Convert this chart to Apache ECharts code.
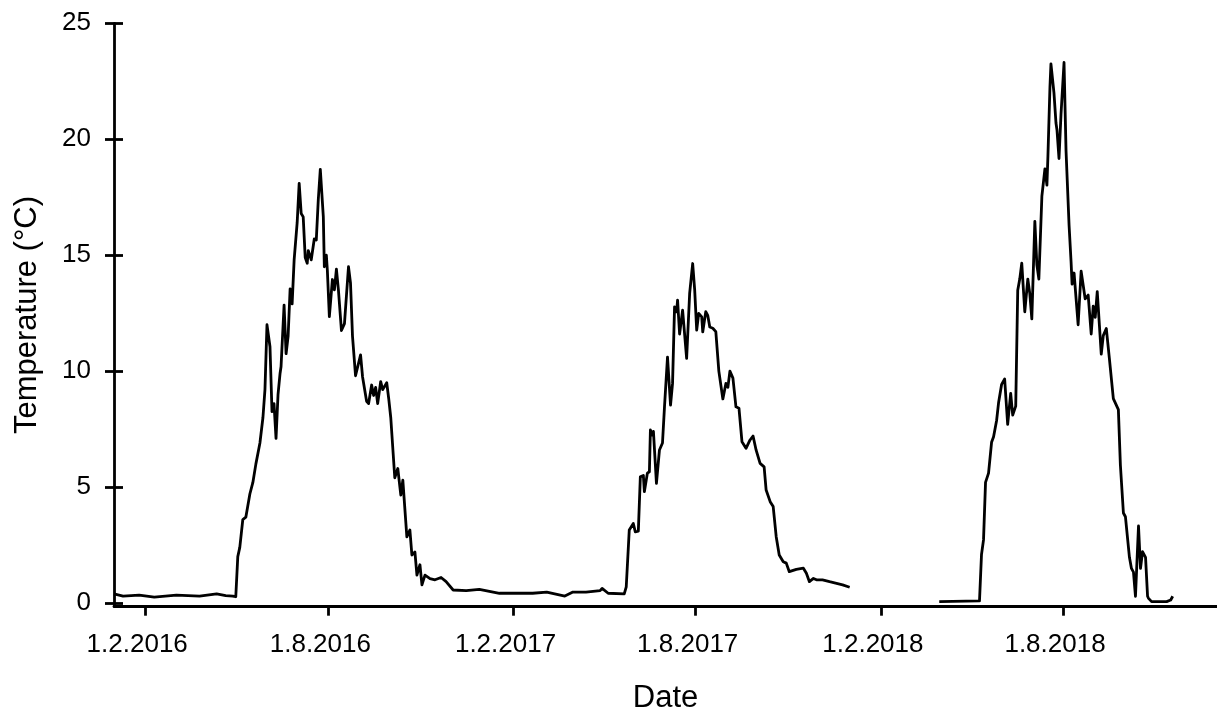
<!DOCTYPE html>
<html>
<head>
<meta charset="utf-8">
<title>Temperature</title>
<script src="https://cdn.jsdelivr.net/npm/echarts@6/dist/echarts.min.js"></script>
<style>
  html, body { margin: 0; padding: 0; background: #fff; }
  #chart { width: 1217px; height: 715px; }
</style>
</head>
<body>
<div id="chart"></div>
<script>
// logger record 2016 - end of 2017 (continuous)
const datesA = [
  '2016-01-01','2016-01-10','2016-01-26','2016-02-10','2016-03-03','2016-03-26','2016-04-12','2016-04-21','2016-04-28','2016-05-01',
  '2016-05-03','2016-05-05','2016-05-08','2016-05-11','2016-05-15','2016-05-18','2016-05-21','2016-05-25','2016-05-28','2016-05-30',
  '2016-06-01','2016-06-04','2016-06-06','2016-06-08','2016-06-10','2016-06-12','2016-06-14','2016-06-15','2016-06-18','2016-06-20',
  '2016-06-22','2016-06-24','2016-06-26','2016-06-28','2016-07-01','2016-07-03','2016-07-05','2016-07-07','2016-07-09','2016-07-11',
  '2016-07-12','2016-07-15','2016-07-18','2016-07-20','2016-07-22','2016-07-24','2016-07-27','2016-07-28','2016-07-30','2016-07-31',
  '2016-08-02','2016-08-05','2016-08-07','2016-08-09','2016-08-11','2016-08-14','2016-08-17','2016-08-21','2016-08-23','2016-08-25',
  '2016-08-28','2016-09-02','2016-09-04','2016-09-08','2016-09-10','2016-09-13','2016-09-15','2016-09-17','2016-09-19','2016-09-22',
  '2016-09-24','2016-09-28','2016-09-30','2016-10-02','2016-10-06','2016-10-09','2016-10-12','2016-10-14','2016-10-18','2016-10-21',
  '2016-10-23','2016-10-26','2016-10-28','2016-10-31','2016-11-02','2016-11-05','2016-11-10','2016-11-15','2016-11-21','2016-11-26',
  '2016-12-03','2016-12-16','2016-12-29','2017-01-18','2017-02-03','2017-02-20','2017-03-06','2017-03-24','2017-04-01','2017-04-14',
  '2017-04-28','2017-04-30','2017-05-06','2017-05-22','2017-05-24','2017-05-27','2017-05-31','2017-06-02','2017-06-05','2017-06-07',
  '2017-06-10','2017-06-11','2017-06-14','2017-06-16','2017-06-17','2017-06-19','2017-06-20','2017-06-23','2017-06-26','2017-06-29',
  '2017-07-01','2017-07-04','2017-07-07','2017-07-09','2017-07-11','2017-07-13','2017-07-14','2017-07-16','2017-07-19','2017-07-23',
  '2017-07-26','2017-07-29','2017-07-31','2017-08-02','2017-08-04','2017-08-07','2017-08-08','2017-08-11','2017-08-13','2017-08-15',
  '2017-08-18','2017-08-21','2017-08-24','2017-08-28','2017-08-31','2017-09-02','2017-09-04','2017-09-07','2017-09-10','2017-09-13',
  '2017-09-16','2017-09-20','2017-09-24','2017-09-27','2017-09-30','2017-10-04','2017-10-08','2017-10-10','2017-10-14','2017-10-17',
  '2017-10-20','2017-10-23','2017-10-27','2017-10-30','2017-11-02','2017-11-09','2017-11-16','2017-11-19','2017-11-22','2017-11-26',
  '2017-11-29','2017-12-05','2017-12-12','2017-12-19','2017-12-25','2018-01-01'
];
const tempsA = [
  0.39, 0.30, 0.34, 0.25, 0.34, 0.30, 0.39, 0.32, 0.30, 0.27,
  2.0, 2.4, 3.6, 3.7, 4.7, 5.2, 6.0, 6.9, 8.0, 9.2,
  12.0, 11.05, 8.25, 8.6, 7.1, 9.0, 9.9, 10.2, 12.85, 10.75,
  11.5, 13.55, 12.9, 14.8, 16.4, 18.1, 16.8, 16.65, 14.9, 14.65,
  15.2, 14.8, 15.7, 15.65, 17.4, 18.7, 16.65, 14.5, 15.0, 14.35,
  12.35, 13.95, 13.5, 14.4, 13.5, 11.75, 12.05, 14.5, 13.8, 11.5,
  9.8, 10.7, 9.75, 8.7, 8.6, 9.4, 8.95, 9.3, 8.6, 9.55,
  9.2, 9.5, 8.8, 8.0, 5.4, 5.8, 4.65, 5.3, 2.85, 3.15,
  2.07, 2.2, 1.2, 1.65, 0.78, 1.2, 1.05, 1.0, 1.1, 0.92,
  0.56, 0.53, 0.59, 0.42, 0.42, 0.42, 0.47, 0.30, 0.47, 0.47,
  0.53, 0.63, 0.42, 0.39, 0.7, 3.15, 3.43, 3.07, 3.1, 5.44,
  5.5, 4.8, 5.6, 5.66, 7.46, 7.24, 7.4, 5.16, 6.6, 6.9,
  8.46, 10.6, 8.53, 9.47, 12.77, 12.56, 13.06, 11.6, 12.63, 10.55,
  13.35, 14.64, 13.5, 11.77, 12.49, 12.34, 11.69, 12.56, 12.4, 11.9,
  11.85, 11.7, 10.0, 8.8, 9.47, 9.3, 10.0, 9.7, 8.46, 8.4,
  6.95, 6.67, 7.03, 7.2, 6.6, 6.02, 5.87, 4.87, 4.37, 4.16,
  2.86, 2.07, 1.78, 1.72, 1.35, 1.45, 1.5, 1.28, 0.92, 1.06,
  1.0, 1.0, 0.92, 0.85, 0.78, 0.68
];

// logger record 2018
const datesB = [
  '2018-03-31','2018-05-10','2018-05-12','2018-05-14','2018-05-16','2018-05-19','2018-05-20','2018-05-22','2018-05-24','2018-05-27',
  '2018-05-29','2018-06-01','2018-06-04','2018-06-07','2018-06-10','2018-06-12','2018-06-15','2018-06-17','2018-06-19','2018-06-21',
  '2018-06-24','2018-06-27','2018-06-29','2018-07-01','2018-07-04','2018-07-06','2018-07-08','2018-07-11','2018-07-14','2018-07-16',
  '2018-07-17','2018-07-19','2018-07-20','2018-07-23','2018-07-25','2018-07-26','2018-07-28','2018-07-30','2018-08-02','2018-08-04',
  '2018-08-07','2018-08-09','2018-08-10','2018-08-12','2018-08-14','2018-08-16','2018-08-19','2018-08-23','2018-08-26','2018-08-29',
  '2018-08-31','2018-09-02','2018-09-04','2018-09-08','2018-09-10','2018-09-13','2018-09-16','2018-09-20','2018-09-25','2018-09-27',
  '2018-09-30','2018-10-02','2018-10-06','2018-10-08','2018-10-10','2018-10-12','2018-10-15','2018-10-17','2018-10-19','2018-10-22',
  '2018-10-24','2018-10-25','2018-10-28','2018-11-12','2018-11-16','2018-11-18'
];
const tempsB = [
  0.06, 0.09, 2.09, 2.72, 5.2, 5.6, 5.53, 6.93, 7.17, 7.87,
  8.65, 9.43, 9.66, 7.7, 9.04, 8.1, 8.49, 13.49, 13.97, 14.66,
  12.56, 13.97, 13.34, 12.25, 16.46, 14.59, 13.97, 17.55, 18.72, 18.02,
  19.27, 22.24, 23.25, 22.0, 20.7, 20.4, 19.17, 21.08, 23.31, 19.49,
  16.3, 14.71, 13.75, 14.23, 13.12, 12.0, 14.31, 13.12, 13.28, 11.6,
  12.8, 12.32, 13.43, 10.73, 11.53, 11.84, 10.57, 8.81, 8.34, 5.95,
  3.88, 3.72, 1.97, 1.49, 1.33, 0.29, 3.32, 1.49, 2.21, 1.97,
  0.29, 0.2, 0.06, 0.06, 0.13, 0.29
];

const xTicks = ['2016-02-01', '2016-08-01', '2017-02-01', '2017-08-01', '2018-02-01', '2018-08-01'];
const yTicks = [0, 5, 10, 15, 20, 25];

const FONT = "'Liberation Sans', Arial, sans-serif";

function ts(s) {
  const p = s.split('-');
  return Date.UTC(+p[0], +p[1] - 1, +p[2]);
}

function pairs(dates, temps) {
  return dates.map((d, i) => [ts(d), temps[i]]);
}

function fmtDate(v) {
  const d = new Date(v);
  return d.getUTCDate() + '.' + (d.getUTCMonth() + 1) + '.' + d.getUTCFullYear();
}

const xTickValues = xTicks.map(ts);

const chart = echarts.init(document.getElementById('chart'));

const lineStyle = { color: '#000', width: 2.8, join: 'round' };
const axisStroke = { color: '#000', width: 2.8 };

chart.setOption({
  animation: false,
  backgroundColor: '#fff',
  grid: {
    left: 114, right: 0, top: 23.3, bottom: 108.3,
    containLabel: false,
    outerBoundsMode: 'none'
  },
  xAxis: {
    type: 'value',
    min: ts('2016-01-01'),
    max: ts('2019-01-01'),
    name: 'Date',
    nameLocation: 'middle',
    nameGap: 76,
    nameTextStyle: { fontFamily: FONT, fontSize: 31, color: '#000' },
    axisLine: { onZero: false, lineStyle: axisStroke },
    axisTick: { show: true, length: 9, customValues: xTickValues, lineStyle: axisStroke },
    axisLabel: {
      customValues: xTickValues,
      formatter: fmtDate,
      margin: 25,
      padding: [0, 16, 0, 0],
      fontFamily: FONT,
      fontSize: 26,
      color: '#000'
    },
    splitLine: { show: false }
  },
  yAxis: [
    {
      type: 'value',
      position: 'left',
      min: -0.16,
      max: 25,
      name: 'Temperature (°C)',
      nameLocation: 'middle',
      nameGap: 71,
      nameTextStyle: { fontFamily: FONT, fontSize: 31, color: '#000' },
      axisLine: { show: true, onZero: false, lineStyle: axisStroke },
      axisTick: { show: true, length: 9, customValues: yTicks, lineStyle: axisStroke },
      axisLabel: { customValues: yTicks, margin: 23, fontFamily: FONT, fontSize: 26, color: '#000' },
      splitLine: { show: false }
    },
    {
      // shifted 9px right, draws the inner half of the crossing ticks
      type: 'value',
      position: 'left',
      offset: -9,
      min: -0.16,
      max: 25,
      axisLine: { show: false, onZero: false },
      axisTick: { show: true, length: 9, customValues: yTicks, lineStyle: axisStroke },
      axisLabel: { show: false },
      splitLine: { show: false }
    }
  ],
  series: [
    {
      type: 'line',
      data: pairs(datesA, tempsA),
      showSymbol: false,
      lineStyle: lineStyle,
      itemStyle: { color: '#000' }
    },
    {
      type: 'line',
      data: pairs(datesB, tempsB),
      showSymbol: false,
      lineStyle: lineStyle,
      itemStyle: { color: '#000' }
    }
  ]
});
</script>
</body>
</html>
